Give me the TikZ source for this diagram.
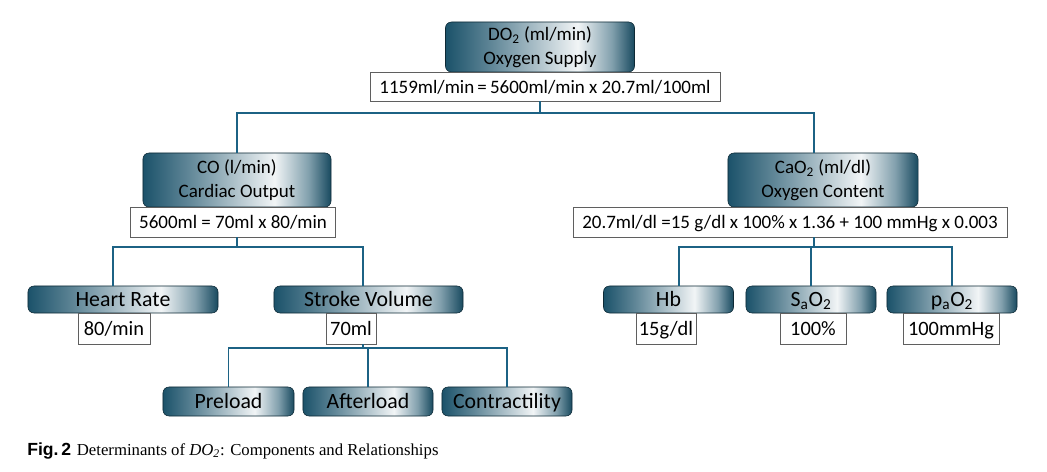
\documentclass[tikz,border=0pt]{standalone}
\usepackage{fontspec}
\setmainfont{Carlito}
\newfontfamily\capserif{Liberation Serif}
\newfontfamily\capsans{Liberation Sans}

\definecolor{tealdk}{RGB}{27,82,106}
\definecolor{tealln}{RGB}{28,98,132}
\definecolor{boxgray}{RGB}{95,95,95}

\pgfdeclarehorizontalshading{tealglow}{100bp}{color(0bp)=(tealdk); color(25bp)=(tealdk);
  color(37bp)=(tealdk!70!white); color(60bp)=(white!94!tealdk); color(69bp)=(tealdk!55!white);
  color(75bp)=(tealdk!90!black); color(100bp)=(tealdk!90!black)}

\begin{document}
\begin{tikzpicture}[x=0.025cm,y=-0.025cm,
    hdbox/.style={draw=tealdk!50!black, rounded corners=0.15cm, shading=tealglow,
      inner sep=0pt, align=center, font=\fontsize{13.5}{17}\selectfont},
    valbox/.style={draw=boxgray, fill=white, inner sep=0pt, text height=0.95em, text depth=0em,
      font=\fontsize{14.5}{16}\selectfont},
    link/.style={draw=tealln, line width=1.4pt}]

  \useasboundingbox (0,0) rectangle (1047,472);

  % heads
  \node[hdbox, minimum width=4.725cm, minimum height=1.25cm] (do2) at (540,47)
    {DO\textsubscript{2} (ml/min)\\Oxygen Supply};
  \node[hdbox, minimum width=4.7cm, minimum height=1.35cm] (co) at (237,180)
    {CO (l/min)\\Cardiac Output};
  \node[hdbox, minimum width=4.75cm, minimum height=1.35cm] (cao2) at (823,180)
    {CaO\textsubscript{2} (ml/dl)\\Oxygen Content};

  \begin{scope}[every node/.style={hdbox, minimum height=0.675cm, text height=1em, text depth=0em,
      font=\fontsize{15.5}{17}\selectfont}]
    \node[minimum width=4.75cm]  (hr)   at (123,299.5) {Heart Rate};
    \node[minimum width=4.725cm] (sv)   at (368.5,299.5) {Stroke Volume};
    \node[minimum width=3.25cm]  (hb)   at (668.5,299.5) {Hb};
    \node[minimum width=3.25cm]  (sao2) at (811,299.5) {S\textsubscript{a}O\textsubscript{2}};
    \node[minimum width=3.25cm]  (pao2) at (952,299.5) {p\textsubscript{a}O\textsubscript{2}};
    \node[minimum width=3.275cm, minimum height=0.725cm] (pre) at (228.5,401.5) {Preload};
    \node[minimum width=3.25cm, minimum height=0.725cm]  (aft) at (368,401.5) {Afterload};
    \node[minimum width=3.25cm, minimum height=0.725cm]  (con) at (507,401.5) {Contractility};
  \end{scope}

  % values
  \node[valbox, minimum width=8.75cm, minimum height=0.725cm, font=\fontsize{13.5}{16}\selectfont] (do2f)
    at (545,86.5) {1159ml/min\,=\,5600ml/min x 20.7ml/100ml};
  \node[valbox, minimum width=5.125cm, minimum height=0.75cm, font=\fontsize{13.5}{16}\selectfont] (cof)
    at (233,222) {5600ml = 70ml x 80/min};
  \node[valbox, minimum width=10.85cm, minimum height=0.75cm, font=\fontsize{13.5}{16}\selectfont] (caof)
    at (790,222) {20.7ml/dl =15 g/dl x 100\% x 1.36 + 100 mmHg x 0.003};
  \node[valbox, minimum width=1.8cm, minimum height=0.775cm]   (hrv)   at (114,328.5) {80/min};
  \node[valbox, minimum width=1.25cm, minimum height=0.775cm]  (svv)   at (351,328.5) {70ml};
  \node[valbox, minimum width=1.5cm, minimum height=0.775cm]   (hbv)   at (666,328.5) {15g/dl};
  \node[valbox, minimum width=1.65cm, minimum height=0.775cm]  (saov)  at (813,328.5) {100\%};
  \node[valbox, minimum width=2.4cm, minimum height=0.775cm]   (paov)  at (951,328.5) {100mmHg};

  \coordinate (catrunk) at ([xshift=-0.225cm]cao2.north);
  \coordinate (svtrunk) at ([xshift=-0.14cm]sv.north);
  \coordinate (hrtrunk) at ([xshift=-0.25cm]hr.north);
  \coordinate (hbtrunk) at ([xshift=0.26cm]hb.north);

  % connectors
  \draw[link] (do2f.south -| do2.south) -- ++(0,12) -| (co.north);
  \draw[link] (do2f.south -| do2.south) -- ++(0,12) -| (catrunk);
  \draw[link] (co.north |- cof.south) -- ++(0,10) -| (hrtrunk);
  \draw[link] (co.north |- cof.south) -- ++(0,10) -| (svtrunk);
  \draw[link] (catrunk |- caof.south) -- ++(0,10) -| (hbtrunk);
  \draw[link] (catrunk |- caof.south) -- ++(0,10) -| (sao2.north);
  \draw[link] (catrunk |- caof.south) -- ++(0,10) -| (pao2.north);
  \draw[link] (svtrunk |- svv.south) -- ++(0,4) -| (pre.north);
  \draw[link] (svtrunk |- svv.south) -- ++(0,4) -| (aft.north);
  \draw[link] (svtrunk |- svv.south) -- ++(0,4) -| (con.north);

  % caption
  \node[anchor=base west, inner sep=0pt] (cap) at (27,455)
    {{\capsans\bfseries\fontsize{12.5}{14}\selectfont Fig.\,2}\hspace{4pt}%
     {\capserif\fontsize{11.9}{14}\selectfont Determinants of \textit{DO\textsubscript{2}}: Components and Relationships}};

\end{tikzpicture}
\end{document}
